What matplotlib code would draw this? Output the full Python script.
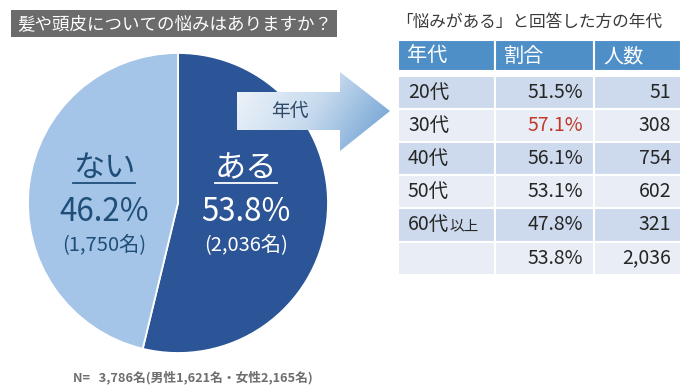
import numpy as np
import matplotlib
matplotlib.use("Agg")
import matplotlib.pyplot as plt
from matplotlib.patches import Rectangle, Polygon
from matplotlib.colors import LinearSegmentedColormap

plt.rcParams['font.family'] = ['Noto Sans CJK JP', 'DejaVu Sans']

# data
title = "髪や頭皮についての悩みはありますか？"
pie_labels = ["ある", "ない"]
pie_counts = [2036, 1750]
pie_pcts = [53.8, 46.2]
table_title = "「悩みがある」と回答した方の年代"
headers = ["年代", "割合", "人数"]
ages = ["20代", "30代", "40代", "50代", "60代以上", ""]
rates = [51.5, 57.1, 56.1, 53.1, 47.8, 53.8]
counts = [51, 308, 754, 602, 321, 2036]
footer = "N=   3,786名(男性1,621名・女性2,165名)"

dark_blue = '#2c5597'
light_blue = '#a4c5e7'

fig = plt.figure(figsize=(7, 3.9), dpi=100)
W, H = 700, 390

# pie
cx, cy, r = 178, 203, 150
pax = fig.add_axes([(cx - r) / W, (H - cy - r) / H, 2 * r / W, 2 * r / H])
pax.pie(pie_counts, colors=[dark_blue, light_blue], startangle=90, counterclock=False,
        wedgeprops=dict(edgecolor='white', linewidth=1.3))
pax.set_xlim(-1, 1)
pax.set_ylim(-1, 1)
pax.set_aspect('equal')

# overlay in pixel coords
ax = fig.add_axes([0, 0, 1, 1])
ax.patch.set_visible(False)
ax.axis('off')

# title bar
ax.add_patch(Rectangle((11, 10), 326, 27, facecolor='#6b6b6b', edgecolor='none'))
ax.text(17, 24, title, color='white', fontsize=12.6, va='center', ha='left')

# pie labels
label_pos = {"ある": 246, "ない": 104}
label_col = {"ある": 'white', "ない": '#1f4e79'}
for lab, n, p in zip(pie_labels, pie_counts, pie_pcts):
    x = label_pos[lab]
    c = label_col[lab]
    ax.text(x, 168, lab, color=c, fontsize=22.5, ha='center', va='center')
    ax.plot([x - 31, x + 31], [183, 183], color=c, lw=1.3)
    ax.text(x, 212, f"{p:.1f}%", color=c, fontsize=22.5, ha='center', va='center')
    ax.text(x, 245, f"({n:,}名)", color=c, fontsize=14.5, ha='center', va='center')

# arrow with gradient
arrow_pts = [(237, 92), (340, 92), (340, 72), (390, 111), (340, 151), (340, 130), (237, 130)]
poly = Polygon(arrow_pts, closed=True, facecolor='none', edgecolor='none')
ax.add_patch(poly)
u = np.linspace(0, 1, 200)
v = np.linspace(0, 1, 100)
U, V = np.meshgrid(u, v)
grad = 0.75 * U + 0.25 * V
cmap = LinearSegmentedColormap.from_list('arr', ['#f2f6fb', '#c6daee', '#679bd0'])
im = ax.imshow(grad, extent=(237, 390, 151, 72), cmap=cmap, aspect='auto', origin='upper')
im.set_clip_path(poly)
ax.text(290, 111, "年代", color='#2e4a66', fontsize=13.5, ha='center', va='center')

# table
ax.text(396, 22, table_title, color='#3a3a3a', fontsize=12, ha='left', va='center')
col_x = [398, 495, 594, 681]
head_top, head_bot = 40, 71
for j, h in enumerate(headers):
    ax.add_patch(Rectangle((col_x[j], head_top), col_x[j + 1] - col_x[j], head_bot - head_top,
                           facecolor='#4f8fc8', edgecolor='white', lw=1.5))
    ax.text(col_x[j] + 9, (head_top + head_bot) / 2 + 1, h, color='white', fontsize=14.5,
            ha='left', va='center')

row_h = 33.2
top0 = 75.5
max_rate = max(rates[:-1])
for i, (a, rt, n) in enumerate(zip(ages, rates, counts)):
    y0 = top0 + i * row_h
    fc = '#cddaed' if i % 2 == 0 else '#e9eef6'
    for j in range(3):
        ax.add_patch(Rectangle((col_x[j], y0), col_x[j + 1] - col_x[j], row_h,
                               facecolor=fc, edgecolor='white', lw=1.5))
    yc = y0 + row_h / 2
    if a.endswith("以上"):
        ax.text(408, yc, a[:-2], color='#262626', fontsize=14, ha='left', va='center')
        ax.text(450, yc + 1, "以上", color='#262626', fontsize=10.5, ha='left', va='center')
    else:
        ax.text(408, yc, a, color='#262626', fontsize=14, ha='left', va='center')
    rc = '#c0392b' if rt == max_rate and i < len(rates) - 1 else '#262626'
    ax.text(583, yc, f"{rt:.1f}%", color=rc, fontsize=14, ha='right', va='center')
    ax.text(671, yc, f"{n:,}", color='#262626', fontsize=14, ha='right', va='center')

# footer
ax.text(73, 377, footer, color='#6e6e6e', fontsize=9.2, fontweight='bold', ha='left', va='center')

ax.set_xlim(0, W)
ax.set_ylim(H, 0)

fig.savefig("out.png", dpi=100)
